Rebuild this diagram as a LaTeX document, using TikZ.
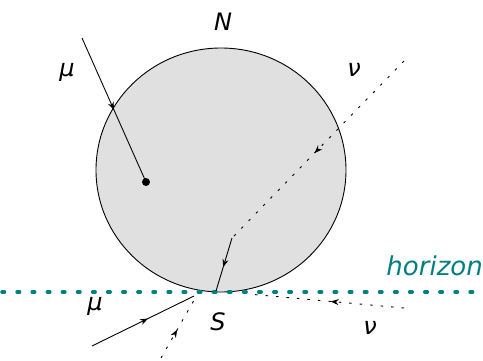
\documentclass[tikz,border=0pt]{standalone}
\usepackage{fontspec}
\setmainfont{DejaVu Sans}
\usetikzlibrary{decorations.markings,arrows.meta}
\definecolor{hteal}{RGB}{0,128,128}
\definecolor{ballgray}{RGB}{224,224,224}
\tikzset{
  lbl/.style={font=\fontsize{24}{28}\selectfont\itshape, inner sep=0pt},
  midarrow/.style={postaction={decorate}, decoration={markings, mark=at position #1 with {\arrow{Stealth[length=8pt,width=6pt]}}}},
  dashline/.style={dash pattern=on 2.5pt off 8pt, line width=0.9pt},
  solidline/.style={line width=0.9pt},
}
\begin{document}
\begin{tikzpicture}[x=1pt,y=-1pt]
\useasboundingbox (0,0) rectangle (483,360);
% ball
\draw[fill=ballgray, line width=0.9pt] (221,170) ellipse [x radius=125, y radius=122];
% horizon
\draw[hteal, line width=3.5pt, line cap=round, dash pattern=on 2.5pt off 12.6pt] (2,292) -- (483,292);
\node[lbl, font=\fontsize{26}{30}\selectfont\itshape, text=hteal, anchor=base east] (hz) at (483,275) {horizon};
% labels
\node[lbl] (N) at (223,22) {N};
\node[lbl] (mu1) at (67,72) {μ};
\node[lbl] (nu1) at (354,70) {ν};
\node[lbl] (S) at (218,322) {S};
\node[lbl] (mu2) at (95,306) {μ};
\node[lbl] (nu2) at (370,328) {ν};
% coordinates
\coordinate (m1s) at (82,38);
\node[circle, fill=black, inner sep=0pt, minimum size=8pt] (dot) at (146,182) {};
\coordinate (n1s) at (404,61);
\coordinate (kink) at (232,238);
\coordinate (Sp) at (216,291);
\coordinate (m2s) at (92,346);
\coordinate (m2e) at (194,296);
\coordinate (d2s) at (161,358);
\coordinate (d2e) at (197,295);
\coordinate (n2s) at (404,308);
\coordinate (n2e) at (248,294);
% lines
\draw[solidline, midarrow=0.5] (m1s) -- (dot.center);
\draw[dashline, midarrow=0.52] (n1s) -- (kink);
\draw[solidline, midarrow=0.55] (kink) -- (Sp);
\draw[solidline, midarrow=0.55] (m2s) -- (m2e);
\draw[dashline, midarrow=0.45] (d2s) -- (d2e);
\draw[dashline, midarrow=0.47] (n2s) -- (n2e);
\end{tikzpicture}
\end{document}
